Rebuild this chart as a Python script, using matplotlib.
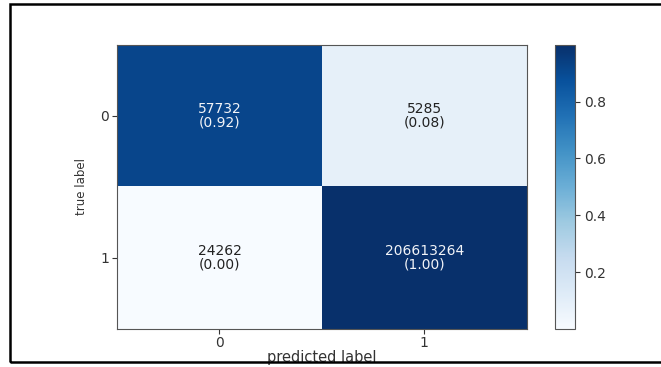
import matplotlib
matplotlib.use('Agg')
import matplotlib.pyplot as plt
import matplotlib.patches as patches
import numpy as np

plt.rcParams['font.family'] = ['DejaVu Sans']

# confusion matrix counts (rows = true label, cols = predicted label)
class_names = ['0', '1']
row_0 = [57732, 5285]
row_1 = [24262, 206613264]
cbar_ticks = [0.2, 0.4, 0.6, 0.8]

conf_mat = np.array([row_0, row_1], dtype=float)
normed = conf_mat / conf_mat.sum(axis=1, keepdims=True)

fig = plt.figure(figsize=(6.61, 3.67), dpi=100)
ax = fig.add_axes([0.177, 0.104, 0.620, 0.774])
cax = fig.add_axes([0.8396, 0.104, 0.0303, 0.774])

im = ax.imshow(normed, cmap='Blues', aspect='auto')
cb = fig.colorbar(im, cax=cax)
cb.set_ticks(cbar_ticks)
cb.ax.tick_params(labelsize=10, length=3.5, width=0.8, colors='#333333', pad=3)
cb.outline.set_edgecolor('#555555')

for i in range(normed.shape[0]):
    for j in range(normed.shape[1]):
        txt = f"{int(conf_mat[i, j])}\n({normed[i, j]:.2f})"
        ax.text(j, i, txt, ha='center', va='center', fontsize=10,
                linespacing=0.95,
                color='#f2f4f8' if normed[i, j] > 0.5 else '#222222')

ax.set_xticks(range(len(class_names)))
ax.set_yticks(range(len(class_names)))
ax.set_xticklabels(class_names)
ax.set_yticklabels(class_names)
ax.tick_params(labelsize=10, length=3.5, width=0.8, colors='#333333', pad=2)
for s in ax.spines.values():
    s.set_edgecolor('#555555')

ax.set_xlabel('predicted label', fontsize=10.5, color='#333333', labelpad=0)
ax.set_ylabel('true label', fontsize=8.5, color='#333333', labelpad=9)

# black frame around the whole chart, right edge runs off the image
frame = patches.Rectangle((10 / 661, 1 - 362 / 367), 1.2, (362 - 4) / 367,
                          transform=fig.transFigure, fill=False,
                          edgecolor='black', linewidth=1.8, clip_on=False)
fig.patches.append(frame)

plt.savefig('out.png', dpi=100)
plt.close()
